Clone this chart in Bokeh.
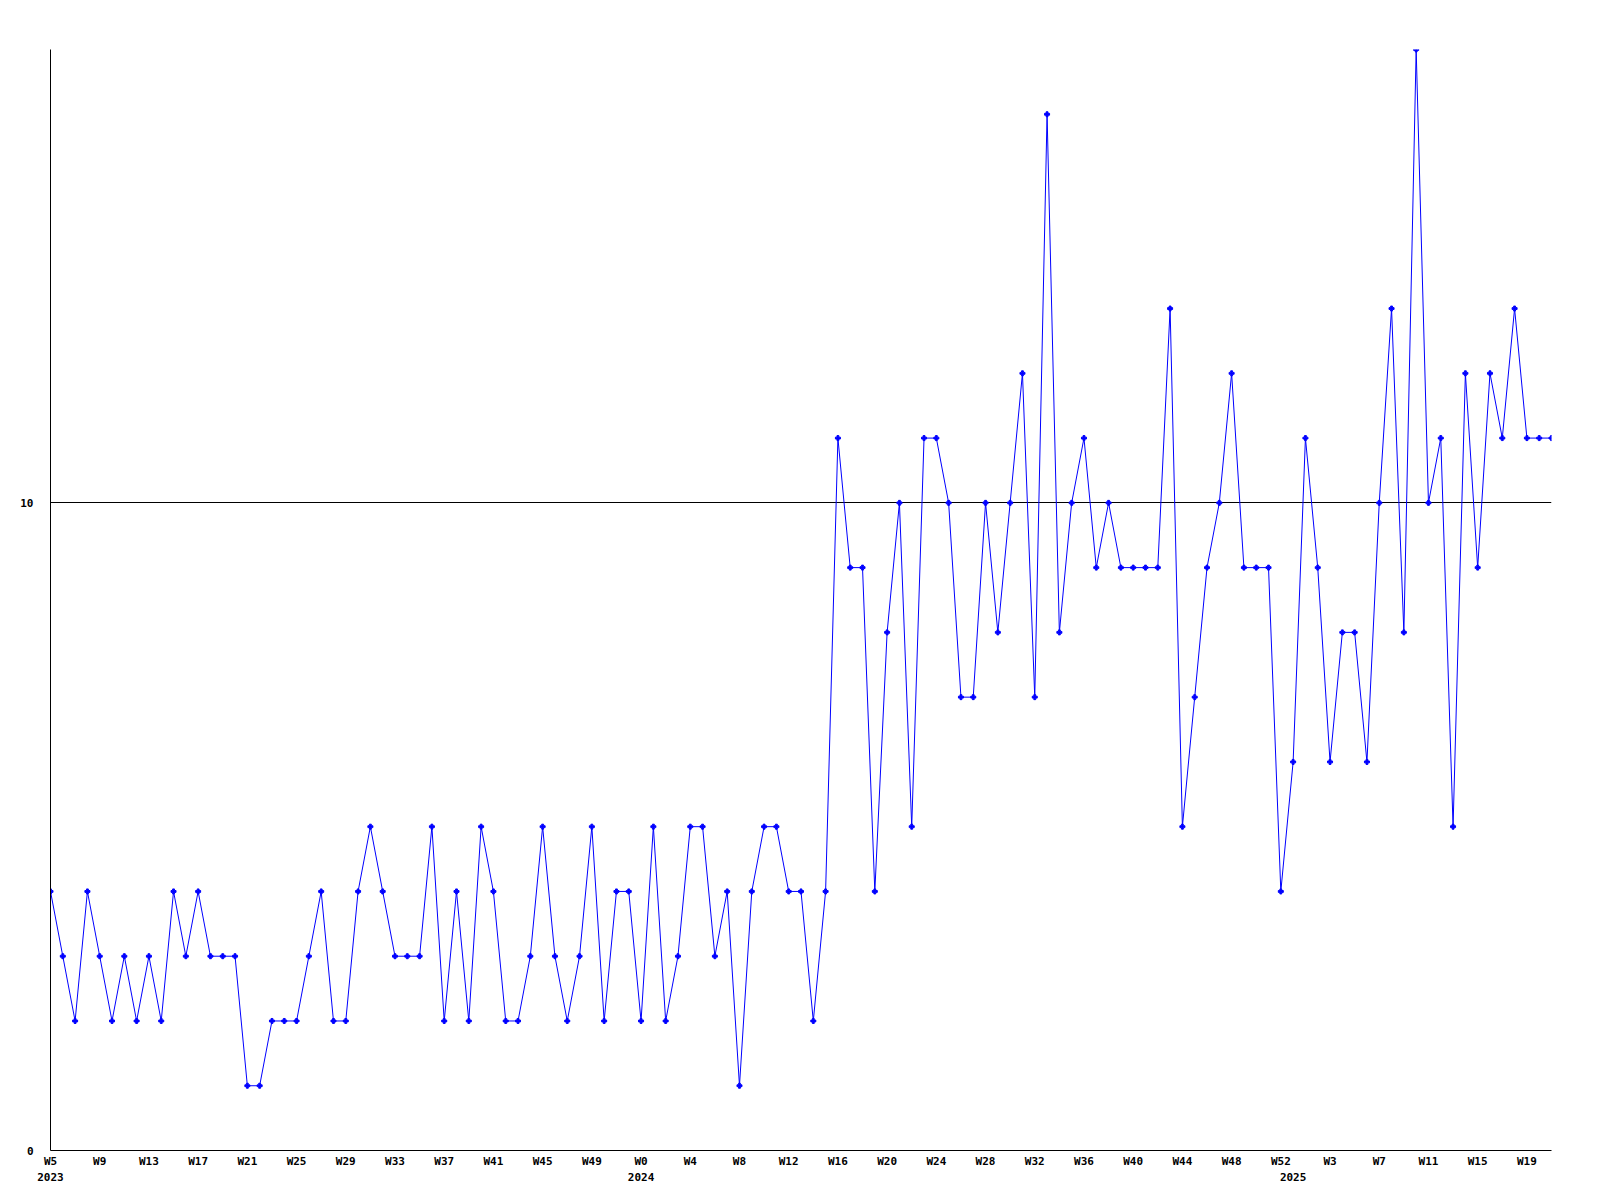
from bokeh.plotting import figure
from bokeh.models import Range1d, LinearAxis, FixedTicker, ColumnDataSource
from bokeh.embed import file_html
from bokeh.resources import INLINE

# --- data -------------------------------------------------------------
years = [2023, 2024, 2025]
weeks_2023 = list(range(5, 53))   # W5 .. W52
weeks_2024 = list(range(0, 53))   # W0 .. W52
weeks_2025 = list(range(0, 22))   # W0 .. W21

values_2023 = [4, 3, 2, 4, 3, 2, 3, 2, 3, 2, 4, 3, 4, 3, 3, 3, 1, 1, 2, 2, 2, 3, 4, 2,
               2, 4, 5, 4, 3, 3, 3, 5, 2, 4, 2, 5, 4, 2, 2, 3, 5, 3, 2, 3, 5, 2, 4, 4]
values_2024 = [2, 5, 2, 3, 5, 5, 3, 4, 1, 4, 5, 5, 4, 4, 2, 4,
               11, 9, 9, 4, 8, 10, 5, 11, 11, 10, 7, 7, 10, 8, 10, 12, 7, 16, 8, 10,
               11, 9, 10, 9, 9, 9, 9, 13, 5, 7, 9, 10, 12, 9, 9, 9, 4]
values_2025 = [6, 11, 9, 6, 8, 8, 6, 10, 13, 8, 17, 10, 11, 5, 12, 9, 12, 11, 13, 11, 11, 11]

y_ticks = [0, 10]
label_every = 4

# --- derived tables ---------------------------------------------------
week_lists = [weeks_2023, weeks_2024, weeks_2025]
value_lists = [values_2023, values_2024, values_2025]
week_labels, vals, year_starts = [], [], {}
for yr, wl, vl in zip(years, week_lists, value_lists):
    year_starts[len(week_labels)] = str(yr)
    week_labels += ["W%d" % w for w in wl]
    vals += vl
idx = list(range(len(vals)))
src = ColumnDataSource(dict(x=idx, y=vals))

FONT = "DejaVu Sans Mono"

p = figure(width=1584, height=1192, output_backend="svg", toolbar_location=None,
           x_range=Range1d(0, len(vals) - 1), y_range=Range1d(0, max(vals)),
           min_border_left=50, min_border_right=33, min_border_top=49,
           min_border_bottom=42)
p.outline_line_color = None
p.background_fill_color = "white"
p.border_fill_color = "white"

p.line("x", "y", source=src, line_color="#0000ff", line_width=1)
p.scatter("x", "y", source=src, marker="plus", size=5, color="#0000ff")

# y axis
yax = p.yaxis[0]
yax.ticker = FixedTicker(ticks=y_ticks)
yax.major_tick_out = 0
yax.major_tick_in = 0
yax.minor_tick_line_color = None
yax.major_label_standoff = 17
yax.axis_line_color = "black"
yax.major_label_text_font = FONT
yax.major_label_text_font_style = "bold"
yax.major_label_text_font_size = "11px"
yax.major_label_text_color = "black"

p.ygrid.ticker = FixedTicker(ticks=y_ticks)
p.ygrid.grid_line_color = "black"
p.ygrid.grid_line_alpha = 1.0
p.ygrid.grid_line_width = 1
p.xgrid.grid_line_color = None

# x axis: week labels
xax = p.xaxis[0]
wk_ticks = idx[::label_every]
xax.ticker = FixedTicker(ticks=wk_ticks)
xax.major_label_overrides = {t: week_labels[t] for t in wk_ticks}
xax.major_tick_out = 0
xax.major_tick_in = 0
xax.minor_tick_line_color = None
xax.major_label_standoff = 4
xax.axis_line_color = "black"
xax.major_label_text_font = FONT
xax.major_label_text_font_style = "bold"
xax.major_label_text_font_size = "11px"
xax.major_label_text_color = "black"

# second x axis: year labels
yr_ax = LinearAxis(ticker=FixedTicker(ticks=list(year_starts.keys())),
                   major_label_overrides=year_starts)
yr_ax.axis_line_color = None
yr_ax.major_tick_line_color = None
yr_ax.minor_tick_line_color = None
yr_ax.major_tick_out = 0
yr_ax.major_tick_in = 0
yr_ax.major_label_standoff = 2
yr_ax.major_label_text_font = FONT
yr_ax.major_label_text_font_style = "bold"
yr_ax.major_label_text_font_size = "11px"
yr_ax.major_label_text_color = "black"
p.add_layout(yr_ax, "below")

open("out.html", "w").write(file_html(p, INLINE))
